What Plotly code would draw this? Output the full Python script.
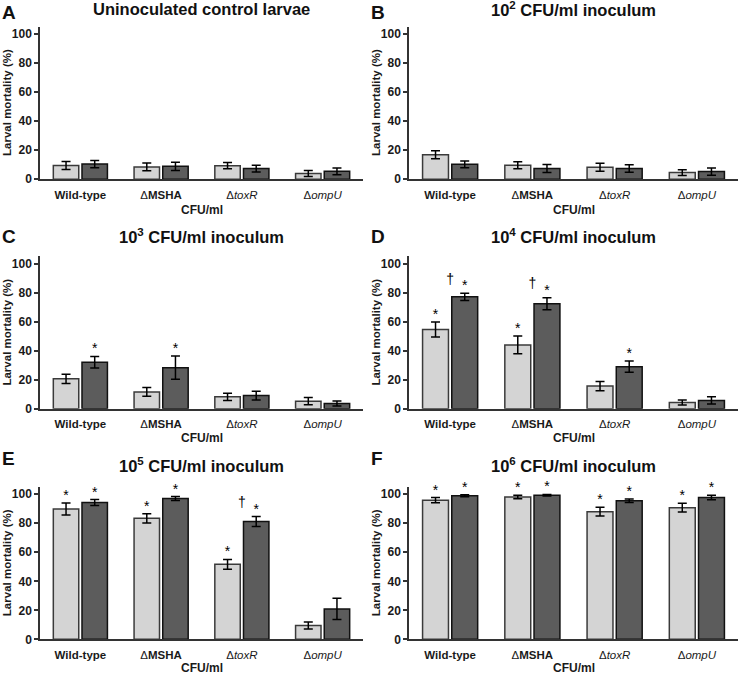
import plotly.graph_objects as go
from plotly.subplots import make_subplots

# categories
strain_labels = ['<b>Wild-type</b>', 'Δ<b>MSHA</b>', 'Δ<i>toxR</i>', 'Δ<i>ompU</i>']
panel_letters = ['A', 'B', 'C', 'D', 'E', 'F']
panel_titles = [
    'Uninoculated control larvae',
    '10<sup>2</sup> CFU/ml inoculum',
    '10<sup>3</sup> CFU/ml inoculum',
    '10<sup>4</sup> CFU/ml inoculum',
    '10<sup>5</sup> CFU/ml inoculum',
    '10<sup>6</sup> CFU/ml inoculum',
]
y_ticks = [0, 20, 40, 60, 80, 100]

# light grey bars (mean, error)
light_mean = [
    [9.4, 8.4, 9.3, 3.9],
    [16.8, 9.5, 8.2, 4.5],
    [20.6, 11.6, 8.2, 5.2],
    [54.6, 44.0, 15.6, 4.3],
    [89.8, 83.4, 51.7, 9.5],
    [95.9, 98.0, 88.0, 90.7],
]
light_err = [
    [2.8, 2.7, 2.2, 2.0],
    [2.7, 2.4, 2.8, 2.0],
    [3.2, 3.0, 2.5, 2.5],
    [5.1, 6.1, 3.2, 1.7],
    [4.1, 3.2, 3.4, 2.4],
    [1.8, 1.2, 3.0, 3.0],
]
# dark grey bars (mean, error)
dark_mean = [
    [10.4, 8.8, 7.3, 5.4],
    [10.2, 7.3, 7.3, 5.2],
    [32.0, 28.3, 9.1, 3.6],
    [77.1, 72.3, 29.0, 5.7],
    [94.3, 97.0, 81.2, 21.0],
    [98.9, 99.3, 95.5, 97.7],
]
dark_err = [
    [2.5, 2.8, 2.3, 2.3],
    [2.3, 2.7, 2.6, 2.5],
    [4.0, 8.0, 3.0, 1.7],
    [2.5, 4.1, 3.9, 2.5],
    [2.0, 1.4, 3.4, 7.3],
    [0.7, 0.5, 1.2, 1.5],
]
# significance marks
light_star = [
    [0, 0, 0, 0], [0, 0, 0, 0], [0, 0, 0, 0],
    [1, 1, 0, 0], [1, 1, 1, 0], [1, 1, 1, 1],
]
dark_star = [
    [0, 0, 0, 0], [0, 0, 0, 0], [1, 1, 0, 0],
    [1, 1, 1, 0], [1, 1, 1, 0], [1, 1, 1, 1],
]
dark_dagger = [
    [0, 0, 0, 0], [0, 0, 0, 0], [0, 0, 0, 0],
    [1, 1, 0, 0], [0, 0, 1, 0], [0, 0, 0, 0],
]

W, H = 741, 682
FONT = 'Liberation Sans, Arial, sans-serif'
LIGHT = '#d4d4d4'
DARK = '#5c5c5c'
BAR_W = 0.315
L_OFF = -0.335
D_OFF = 0.02

col_px = [(40, 363), (409, 738)]
row_px = [(27, 181), (259, 413), (492, 646)]  # top, bottom of axis area
title_y = [9, 238, 470]
letter_y = [0, 226, 451]
xtitle_y = [212, 443, 675]

fig = make_subplots(rows=3, cols=2)

annotations = []
for p in range(6):
    r, c = p // 2 + 1, p % 2 + 1
    xs = list(range(4))
    fig.add_trace(go.Bar(
        x=xs, y=light_mean[p], offset=L_OFF, width=BAR_W,
        marker=dict(color=LIGHT, line=dict(color='#3a3a3a', width=1.5)),
        error_y=dict(type='data', array=light_err[p], color='black', thickness=1.5, width=4.5),
        showlegend=False,
    ), row=r, col=c)
    fig.add_trace(go.Bar(
        x=xs, y=dark_mean[p], offset=D_OFF, width=BAR_W,
        marker=dict(color=DARK, line=dict(color='#111111', width=1.5)),
        error_y=dict(type='data', array=dark_err[p], color='black', thickness=1.5, width=4.5),
        showlegend=False,
    ), row=r, col=c)

    # stars and daggers
    tx, ty, tt = [], [], []
    for i in range(4):
        if light_star[p][i]:
            tx.append(i + L_OFF + BAR_W / 2)
            ty.append(light_mean[p][i] + light_err[p][i] + 4.5)
            tt.append('*')
        if dark_star[p][i]:
            tx.append(i + D_OFF + BAR_W / 2)
            ty.append(dark_mean[p][i] + dark_err[p][i] + 4.5)
            tt.append('*')
        if dark_dagger[p][i]:
            tx.append(i)
            ty.append(dark_mean[p][i] + dark_err[p][i] + 9)
            tt.append('†')
    if tx:
        fig.add_trace(go.Scatter(
            x=tx, y=ty, text=tt, mode='text', textposition='middle center',
            textfont=dict(family=FONT, size=14, color='black'),
            showlegend=False, hoverinfo='skip', cliponaxis=False,
        ), row=r, col=c)

    x0, x1 = col_px[c - 1]
    top, bot = row_px[r - 1]
    fig.update_xaxes(
        domain=[x0 / W, x1 / W], range=[-0.5, 3.5],
        tickmode='array', tickvals=list(range(4)), ticktext=strain_labels,
        tickfont=dict(family=FONT, size=11.5, color='#1a1a1a'),
        ticklabelstandoff=4,
        showline=True, linecolor='#333333', linewidth=1.5,
        ticks='', showgrid=False, zeroline=False, fixedrange=True,
        row=r, col=c,
    )
    fig.update_yaxes(
        domain=[(H - bot) / H, (H - top) / H], range=[0, 105],
        tickmode='array', tickvals=y_ticks,
        tickfont=dict(family=FONT, size=12, color='#1a1a1a', weight='bold'),
        showline=True, linecolor='#333333', linewidth=1.5,
        ticks='outside', ticklen=4, tickwidth=1.5, tickcolor='#333333',
        showgrid=False, zeroline=False, fixedrange=True,
        row=r, col=c,
    )

    cx = (x0 + x1) / 2 / W
    annotations.append(dict(
        text='<b>' + panel_titles[p] + '</b>', x=cx, y=(H - title_y[r - 1]) / H,
        xref='paper', yref='paper', xanchor='center', yanchor='middle',
        showarrow=False, font=dict(family=FONT, size=16.5, color='#111111'),
    ))
    annotations.append(dict(
        text='<b>' + panel_letters[p] + '</b>', x=(0 if c == 1 else 369) / W,
        y=(H - letter_y[r - 1]) / H,
        xref='paper', yref='paper', xanchor='left', yanchor='top',
        showarrow=False, font=dict(family=FONT, size=19, color='#111111'),
    ))
    annotations.append(dict(
        text='<b>CFU/ml</b>', x=cx, y=(H - xtitle_y[r - 1]) / H,
        xref='paper', yref='paper', xanchor='center', yanchor='middle',
        showarrow=False, font=dict(family=FONT, size=12, color='#1a1a1a'),
    ))
    annotations.append(dict(
        text='<b>Larval mortality (%)</b>', x=(x0 - 33) / W, y=(H - (top + bot) / 2) / H,
        xref='paper', yref='paper', xanchor='center', yanchor='middle', textangle=-90,
        showarrow=False, font=dict(family=FONT, size=11.5, color='#1a1a1a'),
    ))

fig.update_layout(
    width=W, height=H,
    margin=dict(l=0, r=0, t=0, b=0),
    barmode='overlay',
    plot_bgcolor='white', paper_bgcolor='white',
    annotations=annotations,
    font=dict(family=FONT),
)

# drop the page's default body margin so the figure sits at the window corner
fig.write_html("out.html", config={'displayModeBar': False},
               post_script="document.body.style.margin='0';")
